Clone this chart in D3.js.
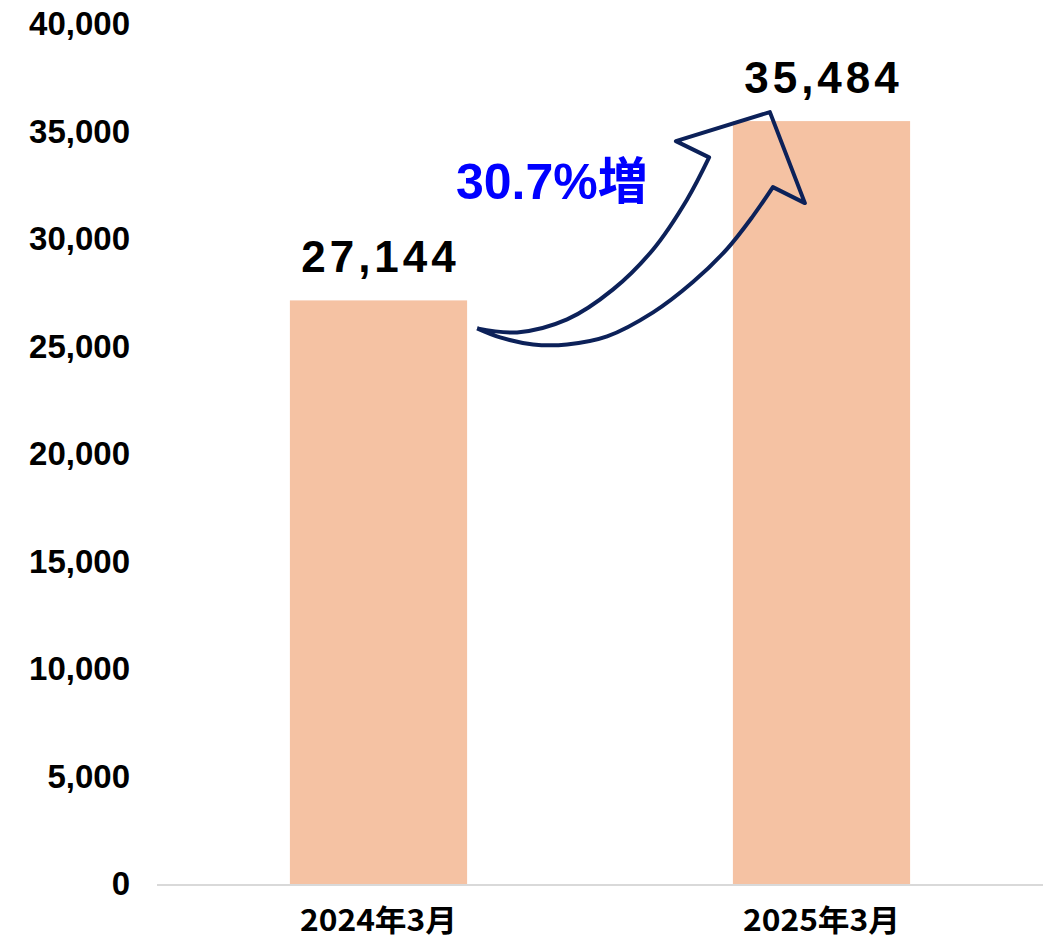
<!DOCTYPE html>
<html>
<head>
<meta charset="utf-8">
<script src="https://cdn.jsdelivr.net/npm/d3@7"></script>
<style>
  body { margin: 0; background: #fff; }
  text { font-family: "Liberation Sans", Arial, sans-serif; }
</style>
</head>
<body>
<div id="chart"></div>
<script>
var width = 1053,
    height = 939;

// data
var categories = ["2024年3月", "2025年3月"];
var values = [27144, 35484];
var yTicks = [0, 5000, 10000, 15000, 20000, 25000, 30000, 35000, 40000];
var growthLabel = "30.7%増";

var margin = {top: 24, right: 10, bottom: 55, left: 157};

var svg = d3.select("#chart").append("svg")
    .attr("width", width)
    .attr("height", height);

var x = d3.scaleBand()
    .domain(categories)
    .range([margin.left, width - margin.right])
    .paddingInner(0.6)
    .paddingOuter(0.3);

var y = d3.scaleLinear()
    .domain([0, 40000])
    .range([height - margin.bottom, margin.top]);

// y tick labels (no axis line)
var yAxis = svg.append("g")
    .attr("transform", "translate(" + margin.left + ",0)")
    .call(d3.axisLeft(y).tickValues(yTicks).tickFormat(d3.format(",")).tickSize(0).tickPadding(27));
yAxis.select(".domain").remove();
yAxis.selectAll("text")
    .attr("fill", "#000")
    .style("font-size", "33px")
    .style("font-weight", "bold")
    .style("font-family", "'Liberation Sans', Arial, sans-serif");

// bars
svg.selectAll("rect.bar")
    .data(values)
    .enter()
    .append("rect")
    .attr("class", "bar")
    .attr("x", function(d, i) { return x(categories[i]); })
    .attr("y", function(d) { return y(d); })
    .attr("width", x.bandwidth())
    .attr("height", function(d) { return y(0) - y(d); })
    .attr("fill", "#f5c2a3");

// bottom axis line
svg.append("line")
    .attr("x1", margin.left)
    .attr("x2", width - margin.right)
    .attr("y1", y(0) + 1)
    .attr("y2", y(0) + 1)
    .attr("stroke", "#d9d9d9")
    .attr("stroke-width", 2);

// category labels
svg.selectAll("text.cat")
    .data(categories)
    .enter()
    .append("text")
    .attr("class", "cat")
    .attr("x", function(d) { return x(d) + x.bandwidth() / 2; })
    .attr("y", y(0) + 47)
    .attr("text-anchor", "middle")
    .attr("textLength", 157)
    .attr("lengthAdjust", "spacingAndGlyphs")
    .style("font-family", "'Noto Sans CJK JP', sans-serif")
    .style("font-weight", "bold")
    .style("font-size", "30px")
    .text(function(d) { return d; });

// value labels
svg.selectAll("text.val")
    .data(values)
    .enter()
    .append("text")
    .attr("class", "val")
    .attr("x", function(d, i) { return x(categories[i]) + x.bandwidth() / 2 + 2; })
    .attr("y", function(d) { return y(d) - 28; })
    .attr("text-anchor", "middle")
    .style("font-size", "44px")
    .style("font-weight", "bold")
    .style("letter-spacing", "4px")
    .text(d3.format(","));

// growth arrow, anchored on bar edges (offsets in px)
var x1 = x(categories[0]) + x.bandwidth(),
    y1 = y(values[0]),
    x2 = x(categories[1]),
    y2 = y(values[1]);

var innerCurve = [[10, 28], [50, 32], [100, 19], [146, -11], [186, -51], [220, -101], [242, -143]]
    .map(function(p) { return [x1 + p[0], y1 + p[1]]; });
var head = [[-57, 20], [37, -9], [72, 82], [40, 66]]
    .map(function(p) { return [x2 + p[0], y2 + p[1]]; });
var outerCurve = [[x2 + 40, y2 + 66], [x2 + 20, y2 + 95], [x2 - 6, y2 + 128], [x2 - 40, y2 + 161],
                  [x1 + 186, y1 + 12], [x1 + 140, y1 + 36], [x1 + 100, y1 + 44], [x1 + 66, y1 + 44],
                  [x1 + 33, y1 + 37], [x1 + 10, y1 + 28]];

var curveLine = d3.line().curve(d3.curveCatmullRom.alpha(0.5));
var straight = d3.line();

var arrowPath = curveLine(innerCurve) +
    straight(head).replace("M", "L") +
    curveLine(outerCurve).replace("M", "L");

svg.append("path")
    .attr("d", arrowPath)
    .attr("fill", "none")
    .attr("stroke", "#0c2159")
    .attr("stroke-width", 4)
    .attr("stroke-linejoin", "round");

svg.append("text")
    .attr("x", 456)
    .attr("y", 199)
    .attr("fill", "#0000ff")
    .style("font-family", "'Liberation Sans', 'Noto Sans CJK JP', sans-serif")
    .style("font-size", "50px")
    .style("font-weight", "bold")
    .text(growthLabel);
</script>
</body>
</html>
